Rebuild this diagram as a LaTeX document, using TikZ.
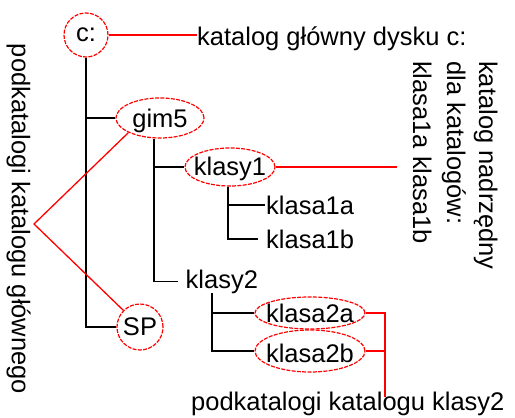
\documentclass[tikz,border=0pt]{standalone}
\usepackage{fontspec}
\setmainfont{Liberation Sans}
\usetikzlibrary{shapes.geometric}
\definecolor{mred}{RGB}{255,0,0}
\begin{document}
\begin{tikzpicture}[x=1pt,y=-1pt,
  txt/.style={inner sep=0pt,font=\fontsize{25.5}{30}\selectfont},
  tree/.style={draw=black,line width=1.4pt},
  redline/.style={color=mred,line width=1.3pt},
  mk/.style={draw=mred,line width=1.2pt,dash pattern=on 4pt off 1.3pt,inner sep=0pt},
  ell/.style={mk,ellipse},
  circ/.style={mk,circle}]
\useasboundingbox (0,0) rectangle (515,418);
% root
\node[circ,minimum size=44pt,label={[txt]center:c:}] (c) at (86,35) {};
\node[txt,anchor=base west] (kat) at (197,45) {katalog główny dysku c:};
\draw[redline] (c.east) -- (c.east -| kat.west);
% first level
\node[ell,minimum width=88pt,minimum height=40pt,label={[txt,yshift=-3pt]center:gim5}] (gim5) at (160,118) {};
\node[circ,minimum size=46pt,label={[txt]center:SP}] (sp) at (140,327) {};
\draw[tree] (c.south) |- (sp.west);
\draw[tree] (c.south |- gim5.west) -- (gim5.west);
% second level
\node[ell,minimum width=90pt,minimum height=38pt,label={[txt,yshift=-2pt]center:klasy1}] (klasy1) at (230,167) {};
\node[txt,anchor=base west] (klasy2) at (185.5,288) {klasy2};
\draw[tree] ([xshift=-6pt]gim5.south) |- ([xshift=-8pt]klasy2.west);
\draw[tree] ([xshift=-6pt]gim5.south |- klasy1.west) -- (klasy1.west);
\coordinate (r1) at (397,167);
\draw[redline] (klasy1.east) -- (r1);
% klasy1 children
\node[txt,anchor=base west] (k1a) at (266,214) {klasa1a};
\node[txt,anchor=base west] (k1b) at (266,248) {klasa1b};
\draw[tree] ([xshift=-2pt]klasy1.south) |- ([xshift=-1pt]k1a.west);
\draw[tree] ([xshift=-2pt]klasy1.south) |- ([xshift=-8pt]k1b.west);
% klasy2 children
\node[ell,minimum width=110pt,minimum height=32pt,label={[txt]center:klasa2a}] (k2a) at (310,313) {};
\node[ell,minimum width=110pt,minimum height=42pt,label={[txt,yshift=-2pt]center:klasa2b}] (k2b) at (310,351) {};
\draw[tree] ([xshift=-10pt]klasy2.south) |- (k2a.west);
\draw[tree] ([xshift=-10pt]klasy2.south) |- (k2b.west);
% bracket to bottom text
\node[txt,anchor=base west] (bot) at (191,410) {podkatalogi katalogu klasy2};
\coordinate (brk) at (385,397);
\draw[redline] (k2a.east) -| (brk);
\draw[redline] (k2b.east) -- (k2b.east -| brk);
% left label
\node[txt,rotate=-90,anchor=base] (left) at (12,219) {podkatalogi katalogu głównego};
\coordinate (lp) at (34,224);
\draw[redline] (gim5.south west) -- (lp) -- (sp.north west);
% right labels
\node[txt,rotate=-90,anchor=base west] (n1) at (479,61) {katalog nadrzędny};
\node[txt,rotate=-90,anchor=base west] (n2) at (447,61) {dla katalogów:};
\node[txt,rotate=-90,anchor=base west] (n3) at (413,61) {klasa1a klasa1b};
\end{tikzpicture}
\end{document}
